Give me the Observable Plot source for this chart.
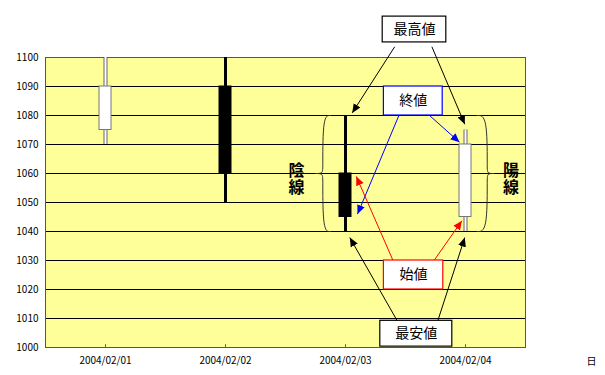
<!DOCTYPE html>
<html><head><meta charset="utf-8">
<script src="https://cdn.jsdelivr.net/npm/d3@7"></script>
<script src="https://cdn.jsdelivr.net/npm/@observablehq/plot@0.6"></script>
<style>body{margin:0;background:#fff;}</style>
</head><body><div id="chart"></div>
<script>
// ---- data ----
const dates  = ["2004/02/01", "2004/02/02", "2004/02/03", "2004/02/04"];
const openV  = [1075, 1090, 1060, 1045];
const highV  = [1100, 1100, 1080, 1075];
const lowV   = [1070, 1050, 1040, 1040];
const closeV = [1090, 1060, 1045, 1070];
const yTicks = [1000, 1010, 1020, 1030, 1040, 1050, 1060, 1070, 1080, 1090, 1100];
const xUnit = "日";
const boxLabels = ["最高値", "終値", "始値", "最安値"];
const sideLabels = ["陰線", "陽線"];

// ---- derived table ----
const candles = dates.map((d, i) => ({
  i: i + 1, date: d, open: openV[i], high: highV[i], low: lowV[i], close: closeV[i],
  up: closeV[i] >= openV[i]
}));
const upC = candles.filter(d => d.up), downC = candles.filter(d => !d.up);

// ---- annotation layout (data units) ----
const boxes = [
  {label: boxLabels[0], x1: 3.31, x2: 3.84, y1: 1105.2, y2: 1114.1, color: "black"},
  {label: boxLabels[1], x1: 3.32, x2: 3.81, y1: 1080, y2: 1090, color: "blue"},
  {label: boxLabels[2], x1: 3.32, x2: 3.815, y1: 1020, y2: 1030, color: "red"},
  {label: boxLabels[3], x1: 3.29, x2: 3.89, y1: 1000.3, y2: 1009.2, color: "black"}
];
const c3 = candles[2], c4 = candles[3];
const arrows = [
  {x1: 3.41, y1: 1103.7, x2: c3.i + 0.056, y2: c3.high + 0.9, color: "black"},
  {x1: 3.72, y1: 1103.7, x2: c4.i - 0.006, y2: c4.high + 2, color: "black"},
  {x1: 3.444, y1: 1079.9, x2: c3.i + 0.10, y2: c3.close + 1, color: "blue"},
  {x1: 3.703, y1: 1079.9, x2: c4.i - 0.05, y2: c4.close + 0.8, color: "blue"},
  {x1: 3.397, y1: 1029.9, x2: c3.i + 0.09, y2: c3.open - 1, color: "red"},
  {x1: 3.736, y1: 1029.9, x2: c4.i - 0.03, y2: c4.open - 1.3, color: "red"},
  {x1: 3.431, y1: 1009.2, x2: c3.i + 0.036, y2: c3.low - 2.1, color: "black"},
  {x1: 3.769, y1: 1009.2, x2: c4.i - 0.006, y2: c4.low - 2.1, color: "black"}
];
function brace(g, xEnd, xV, xTip, top, bottom) {
  const mid = (top + bottom) / 2;
  return [
    [xEnd, top], [xV, top], [xV, mid + 2], [xV, mid], [xTip, mid]
  ].map(([x, y]) => ({g: g + "a", x, y})).concat(
    [[xTip, mid], [xV, mid], [xV, mid - 2], [xV, bottom], [xEnd, bottom]]
      .map(([x, y]) => ({g: g + "b", x, y})));
}
const braces = brace("L", 2.875, 2.811, 2.75, c3.high, c3.low)
  .concat(brace("R", 4.097, 4.181, 4.236, c3.high, c3.low));
const sides = [
  {t: sideLabels[0], x: 2.592, y: 1060},
  {t: sideLabels[1], x: 4.38, y: 1060}
];

function headMarker(color) {
  const m = d3.create("svg:marker")
    .attr("viewBox", "-9 -4.5 9.5 9")
    .attr("markerUnits", "userSpaceOnUse")
    .attr("markerWidth", 9.5).attr("markerHeight", 9)
    .attr("refX", 0).attr("refY", 0)
    .attr("orient", "auto");
  m.append("path").attr("d", "M-9,-4L0,0L-9,4Z").attr("fill", color).attr("stroke", "none");
  return m.node();
}

const chart = Plot.plot({
  width: 605, height: 375,
  marginLeft: 45, marginRight: 80, marginTop: 57, marginBottom: 28,
  style: {fontFamily: "'Noto Sans CJK JP', sans-serif", fontSize: "10px", color: "black", background: "white", overflow: "visible"},
  x: {type: "linear", domain: [0.5, 4.5]},
  y: {domain: [1000, 1100]},
  marks: [
    Plot.frame({fill: "#ffff99", stroke: null}),
    Plot.ruleY(yTicks.slice(1, -1), {stroke: "black", strokeWidth: 1}),
    Plot.frame({stroke: "#555"}),
    Plot.ruleX(candles, {x: "i", y1: 1000, y2: 1001, stroke: "#666"}),
    Plot.axisY({ticks: yTicks, tickFormat: d => String(d), tickSize: 0, tickPadding: 7, label: null, fill: "black"}),
    Plot.axisX({ticks: candles.map(d => d.i), tickFormat: i => dates[i - 1], tickSize: 0, tickPadding: 9, label: null, fill: "black"}),
    Plot.text([xUnit], {x: () => 5.05, y: () => 1000, dy: 14, text: d => d, fontSize: 10, fill: "black"}),
    // braces
    Plot.line(braces, {x: "x", y: "y", z: "g", curve: "basis", stroke: "#333", strokeWidth: 1}),
    // wicks
    Plot.ruleX(upC, {x: "i", y1: "low", y2: "high", stroke: "#666", strokeWidth: 4}),
    Plot.ruleX(upC, {x: "i", y1: "low", y2: "high", stroke: "white", strokeWidth: 2}),
    Plot.ruleX(downC, {x: "i", y1: "low", y2: "high", stroke: "black", strokeWidth: 3}),
    // bodies
    Plot.rect(candles, {x1: d => d.i - 0.05, x2: d => d.i + 0.05, y1: "open", y2: "close",
      fill: d => d.up ? "white" : "black", stroke: d => d.up ? "#777" : "black", strokeWidth: 1}),
    // side labels (vertical writing)
    Plot.text(sides, {x: "x", y: "y", text: "t", fontSize: 16, fontWeight: "bold", fill: "black",
      render: (index, scales, values, dims, context, next) => {
        const g = next(index, scales, values, dims, context);
        d3.select(g).selectAll("text")
          .attr("writing-mode", "vertical-rl")
          .attr("dy", null)
          .attr("letter-spacing", "1px");
        return g;
      }}),
    // arrows
    Plot.link(arrows, {x1: "x1", y1: "y1", x2: "x2", y2: "y2", stroke: "color", strokeWidth: 1, markerEnd: headMarker}),
    // boxes
    Plot.rect(boxes, {x1: "x1", x2: "x2", y1: "y1", y2: "y2", fill: "white", stroke: "color", strokeWidth: 1.2}),
    Plot.text(boxes, {x: d => (d.x1 + d.x2) / 2, y: d => (d.y1 + d.y2) / 2, text: "label", fontSize: 14, fill: "black"})
  ]
});
document.getElementById("chart").appendChild(chart);
</script>
</body></html>
